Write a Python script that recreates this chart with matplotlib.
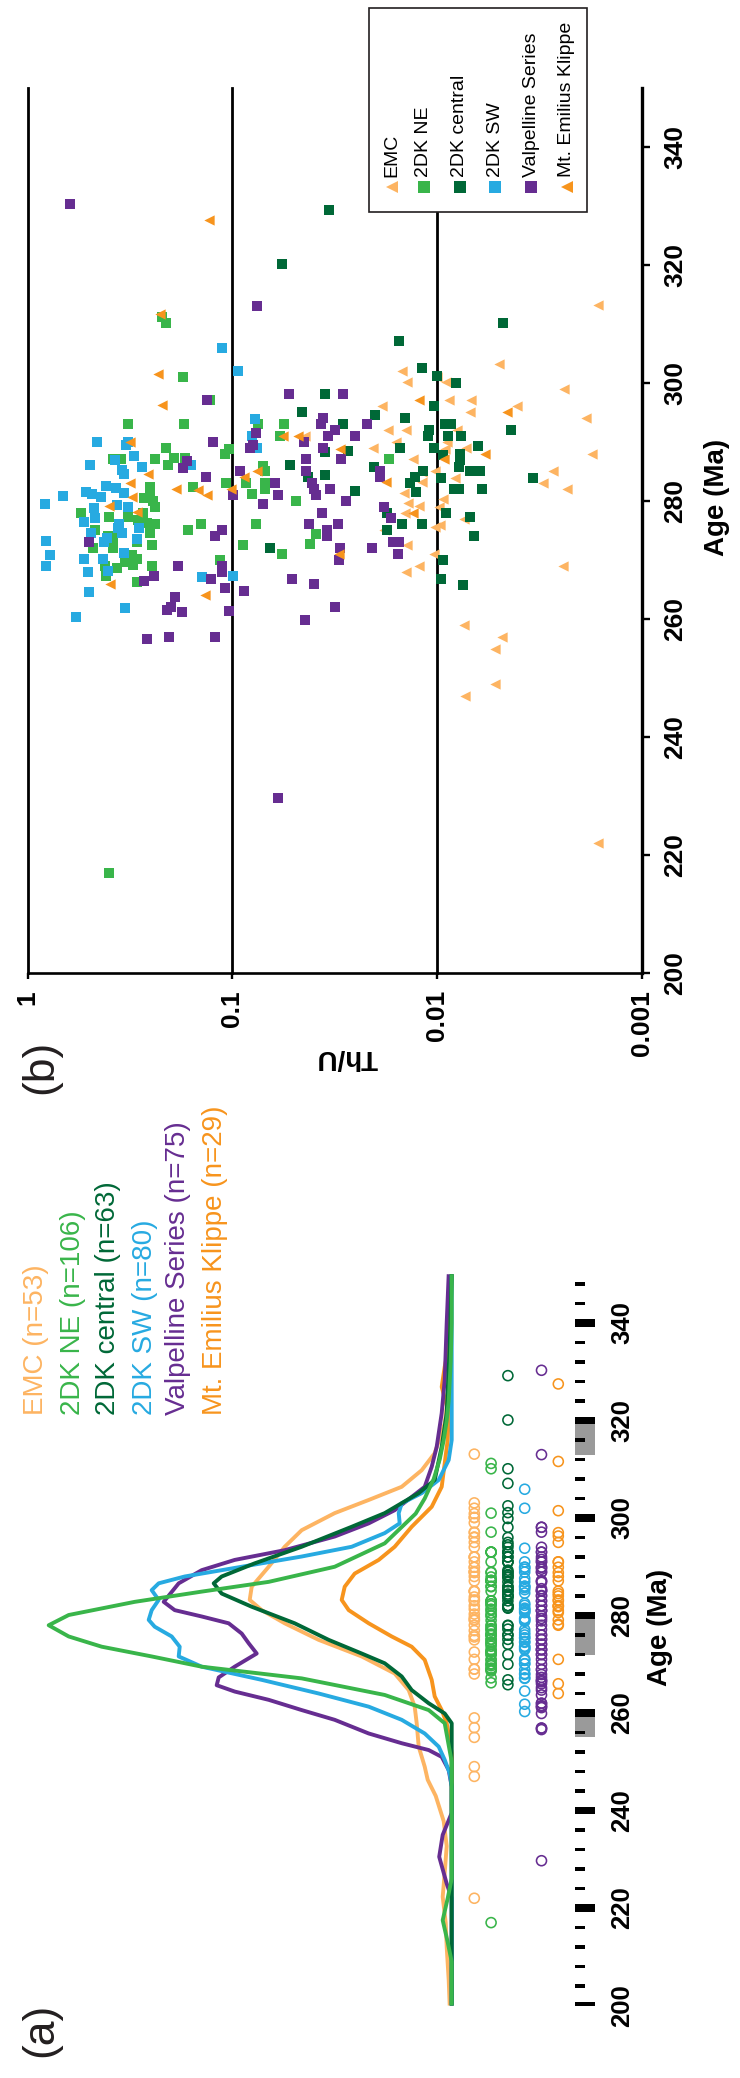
import matplotlib
matplotlib.use('Agg')
import matplotlib.pyplot as plt
import numpy as np
from matplotlib.patches import Rectangle
from matplotlib.ticker import NullLocator

plt.rcParams['font.family'] = ['Liberation Sans', 'DejaVu Sans']

# ---------------- data ----------------
groups = ['EMC', '2DK NE', '2DK central', '2DK SW', 'Valpelline Series', 'Mt. Emilius Klippe']
counts = [53, 106, 63, 80, 75, 29]
colors = ['#FDB462', '#39B54A', '#006837', '#27AAE1', '#662D91', '#F7941D']
markers_b = ['<', 's', 's', 's', 's', '<']

# (b) Th/U vs age
emc_age = [313.1, 303.1, 302.0, 300.1, 300.9, 300.1, 299.0, 296.1, 297.0, 297.1, 295.0, 296.0, 294.0,
           291.0, 292.0, 292.0, 292.0, 289.9, 289.0, 289.9, 289.0, 288.0, 287.1, 288.8, 284.9, 285.0,
           283.2, 283.8, 285.0, 283.0, 282.0, 281.3, 279.6, 279.2, 278.0, 280.3, 279.0, 276.9, 275.9,
           275.6, 275.0, 272.5, 271.0, 269.0, 268.0, 269.0, 259.0, 257.0, 255.0, 249.0, 247.0, 222.0]
emc_thu = [0.00163, 0.0050, 0.0148, 0.0140, 0.0100, 0.0090, 0.00241, 0.0185, 0.0087, 0.00686, 0.0069,
           0.00408, 0.00187, 0.0440, 0.0173, 0.0141, 0.0080, 0.0159, 0.0206, 0.0089, 0.0072, 0.00174,
           0.0131, 0.0091, 0.0118, 0.0102, 0.0118, 0.0082, 0.00272, 0.00305, 0.00231, 0.0145, 0.0138,
           0.0123, 0.0144, 0.0093, 0.0098, 0.0074, 0.0097, 0.0102, 0.0182, 0.0140, 0.0103, 0.0122,
           0.0142, 0.00242, 0.0074, 0.0048, 0.0052, 0.0052, 0.0073, 0.00164]

ne_age = [311.2, 310.1, 301.0, 297.1, 293.0, 293.0, 288.9, 288.8, 287.9, 287.1, 287.1, 287.1, 287.2,
          287.2, 286.0, 293.0, 293.0, 291.0, 285.9, 285.0, 283.0, 282.4, 282.4, 281.3, 283.0, 283.0,
          282.0, 281.1, 279.9, 278.0, 277.3, 279.0, 280.5, 280.0, 277.2, 276.2, 276.0, 276.0, 275.1,
          276.0, 274.4, 272.7, 272.5, 271.0, 275.1, 274.1, 272.0, 272.0, 273.0, 272.5, 274.5, 268.9,
          268.6, 269.2, 270.1, 268.9, 267.2, 266.2, 270.0, 273.7, 270.8, 269.7, 277.9, 276.8, 287.1,
          217.0]
ne_thu = [0.22, 0.212, 0.174, 0.129, 0.322, 0.172, 0.212, 0.104, 0.109, 0.351, 0.381, 0.238, 0.192,
          0.170, 0.206, 0.0746, 0.0557, 0.0582, 0.0706, 0.069, 0.108, 0.155, 0.252, 0.252, 0.0855,
          0.069, 0.069, 0.0798, 0.0487, 0.547, 0.399, 0.240, 0.27, 0.243, 0.322, 0.262, 0.24, 0.143,
          0.164, 0.0763, 0.0389, 0.0416, 0.0883, 0.057, 0.469, 0.404, 0.478, 0.381, 0.293, 0.246,
          0.252, 0.421, 0.367, 0.305, 0.294, 0.246, 0.413, 0.294, 0.115, 0.381, 0.31, 0.334, 0.272,
          0.288, 0.0171, 0.40]

cen_age = [329.2, 310.1, 307.1, 302.5, 301.1, 299.9, 298.1, 295.0, 296.0, 294.5, 294.0, 293.0, 293.0,
           293.0, 292.0, 291.0, 292.0, 291.0, 291.0, 289.3, 288.9, 288.9, 288.4, 288.2, 287.8, 287.9,
           286.9, 285.8, 285.8, 284.4, 284.1, 285.1, 284.0, 283.8, 285.1, 285.1, 283.8, 283.0, 281.6,
           281.5, 282.0, 282.0, 282.0, 278.0, 277.9, 277.2, 276.0, 276.0, 275.1, 274.1, 270.0, 266.8,
           265.8, 320.1, 286.0, 272.0]
cen_thu = [0.0336, 0.00474, 0.0154, 0.0119, 0.0100, 0.0081, 0.0352, 0.0455, 0.0104, 0.0200, 0.0144,
           0.0287, 0.0091, 0.0085, 0.0109, 0.0111, 0.00434, 0.0088, 0.0076, 0.0063, 0.0103, 0.0152,
           0.0271, 0.0352, 0.0093, 0.0077, 0.0077, 0.0078, 0.0203, 0.0352, 0.0425, 0.0117, 0.0128,
           0.0096, 0.0069, 0.0062, 0.0034, 0.0136, 0.0253, 0.0126, 0.0083, 0.0078, 0.0060, 0.0175,
           0.0090, 0.0069, 0.0149, 0.0119, 0.0175, 0.0066, 0.0093, 0.0096, 0.0075, 0.057, 0.052, 0.0652]

sw_age = [305.9, 302.0, 293.8, 291.0, 288.9, 289.9, 289.9, 289.5, 287.6, 286.9, 286.0, 285.7, 285.3,
          284.6, 286.0, 282.5, 282.1, 281.3, 280.8, 279.4, 281.5, 281.1, 280.6, 278.8, 279.3, 279.0,
          276.5, 277.1, 276.0, 275.4, 274.5, 274.6, 273.7, 273.0, 273.5, 273.2, 270.8, 268.9, 270.1,
          270.1, 271.1, 268.1, 267.9, 267.1, 267.2, 264.5, 261.8, 260.3, 275.4]
sw_thu = [0.112, 0.0935, 0.0772, 0.0798, 0.0755, 0.457, 0.322, 0.330, 0.301, 0.373, 0.494, 0.275,
          0.345, 0.337, 0.159, 0.413, 0.369, 0.337, 0.670, 0.820, 0.517, 0.483, 0.436, 0.472, 0.365,
          0.322, 0.528, 0.467, 0.357, 0.285, 0.489, 0.345, 0.408, 0.422, 0.294, 0.810, 0.775, 0.810,
          0.528, 0.427, 0.337, 0.404, 0.506, 0.140, 0.099, 0.500, 0.333, 0.578, 0.361]

val_age = [330.3, 313.0, 297.1, 298.1, 289.9, 291.5, 289.5, 288.9, 286.8, 285.5, 285.1, 289.9, 287.1,
           285.1, 284.1, 283.0, 283.0, 282.0, 281.0, 281.0, 279.4, 276.0, 275.1, 274.1, 273.0, 268.9,
           268.9, 267.9, 267.3, 266.4, 266.7, 266.7, 266.0, 265.2, 264.7, 263.7, 262.0, 261.5, 261.1,
           261.3, 259.9, 256.6, 256.9, 256.9, 298.1, 294.0, 293.0, 292.0, 293.0, 291.0, 291.0, 288.9,
           287.1, 281.0, 282.0, 285.0, 284.0, 279.9, 278.0, 278.9, 277.1, 276.0, 275.1, 274.1, 273.0,
           273.0, 272.0, 272.0, 271.0, 270.0, 262.0, 229.7]
val_thu = [0.62, 0.076, 0.133, 0.053, 0.124, 0.077, 0.079, 0.082, 0.166, 0.174, 0.092, 0.0445, 0.0435,
           0.0435, 0.134, 0.062, 0.041, 0.040, 0.060, 0.099, 0.071, 0.042, 0.113, 0.122, 0.50, 0.184,
           0.113, 0.113, 0.241, 0.269, 0.127, 0.051, 0.040, 0.109, 0.088, 0.190, 0.20, 0.208, 0.177,
           0.104, 0.044, 0.26, 0.203, 0.122, 0.0287, 0.036, 0.037, 0.0314, 0.0221, 0.034, 0.0253,
           0.036, 0.0294, 0.039, 0.0332, 0.0191, 0.0189, 0.0277, 0.0363, 0.0181, 0.0167, 0.0303,
           0.0344, 0.0344, 0.0164, 0.0153, 0.0297, 0.0207, 0.0155, 0.030, 0.0314, 0.060]

mte_age = [327.5, 311.6, 301.5, 296.3, 289.9, 284.5, 283.0, 282.0, 281.8, 281.0, 280.6, 279.1, 278.2,
           282.0, 284.0, 285.0, 291.0, 291.0, 266.0, 264.0, 297.0, 295.0, 288.8, 287.1, 288.0, 283.2,
           278.0, 271.0]
mte_thu = [0.130, 0.227, 0.230, 0.220, 0.316, 0.258, 0.316, 0.188, 0.148, 0.133, 0.309, 0.401, 0.291,
           0.102, 0.0873, 0.0755, 0.0565, 0.0476, 0.396, 0.136, 0.0123, 0.00457, 0.0298, 0.0092,
           0.00583, 0.0177, 0.0131, 0.0301]

ages_all = [emc_age, ne_age, cen_age, sw_age, val_age, mte_age]
thu_all = [emc_thu, ne_thu, cen_thu, sw_thu, val_thu, mte_thu]

# (a) relative probability curves (arbitrary units)
emc_kde_age = [200, 205.2, 212, 217, 222.3, 227.2, 232.7, 237.8, 243, 246.3, 249, 253.1, 257.9, 261.3,
               264.7, 268.1, 271.6, 275, 278.4, 281.1, 283.2, 285.9, 290, 294.1, 297.5, 301, 303.7,
               306.4, 309.8, 313.3, 319.4, 326, 335, 350]
emc_kde_p = [2, 3, 5, 6, 9, 7, 5, 8, 16, 24, 27, 33, 35, 37, 43, 57, 90, 133, 167, 190, 202, 200, 183,
             167, 150, 117, 83, 50, 30, 17, 7, 3, 1, 0]
ne_kde_age = [200, 209, 213, 217.5, 222, 226, 250, 257.9, 260.6, 263.7, 267.1, 269.5, 271.6, 273.6,
              275.7, 278.0, 280.1, 282.8, 284.9, 286.9, 290, 294.8, 300.9, 304, 308, 312, 316, 320,
              324, 328, 332, 340, 350]
ne_kde_p = [0, 0, 4, 9, 4, 0, 0, 7, 23, 67, 150, 250, 300, 350, 383, 403, 383, 317, 250, 183, 117, 67,
            36, 27, 18, 12, 8, 5, 3, 2, 1, 0, 0]
cen_kde_age = [200, 257.9, 259.9, 262.0, 264.7, 267.5, 270.2, 272.2, 275.0, 278.4, 281.8, 284.5, 286.6,
               288.0, 290.7, 294.1, 298.2, 301.0, 305.1, 307.8, 314.6, 321.5, 335.1, 350]
cen_kde_p = [0, 0, 7, 23, 40, 50, 67, 90, 123, 157, 200, 230, 238, 230, 197, 150, 100, 67, 33, 17, 10,
             5, 2, 0]
sw_kde_age = [200, 240, 244.9, 247.6, 250.4, 253.1, 255.8, 258.6, 261.3, 264.0, 266.8, 269.5, 271.6,
              273.6, 275.7, 277.7, 279.1, 281.1, 283.2, 285.2, 286.6, 288.0, 290.0, 292.1, 294.1, 296.9,
              298.9, 301.0, 303.0, 305.1, 307.8, 311.9, 316, 350]
sw_kde_p = [0, 0, 0, 2, 7, 13, 27, 50, 83, 133, 190, 250, 273, 272, 280, 297, 303, 300, 293, 300, 293,
            267, 210, 150, 100, 67, 52, 53, 50, 30, 13, 3, 0, 0]
val_kde_age = [200, 222, 225, 230.5, 235, 239.5, 244.9, 248.3, 251.0, 252.4, 253.8, 255.8, 258.6, 260.6,
               262.7, 264.4, 265.7, 267.3, 269.5, 272.2, 274.3, 276.3, 278.4, 279.8, 281.1, 282.8, 286.6,
               289.3, 291.4, 293.4, 296.2, 298.9, 301.6, 306.4, 310.5, 314.6, 321.5, 328.3, 340, 350]
val_kde_p = [0, 0, 5, 12.5, 9, 0, 0, 3, 10, 23, 50, 83, 117, 150, 183, 217, 235, 233, 217, 195, 203,
             210, 223, 250, 277, 288, 273, 250, 217, 167, 117, 83, 57, 27, 20, 15, 10, 7, 5, 3]
mte_kde_age = [200, 251.7, 254.5, 257.9, 260.6, 263.4, 266.8, 270.9, 273.6, 275.7, 278.4, 281.1, 283.2,
               285.9, 288.6, 291.4, 294.1, 298.2, 302.3, 306.4, 311.2, 316, 321.5, 326.9, 331, 335.1, 350]
mte_kde_p = [0, 0, 2, 5, 10, 17, 20, 27, 40, 60, 83, 103, 110, 107, 97, 73, 57, 40, 20, 10, 7, 4, 3,
             10, 7, 3, 0]

kde_age_all = [emc_kde_age, ne_kde_age, cen_kde_age, sw_kde_age, val_kde_age, mte_kde_age]
kde_p_all = [emc_kde_p, ne_kde_p, cen_kde_p, sw_kde_p, val_kde_p, mte_kde_p]

# time scale bar
scale_major = [200, 220, 240, 260, 280, 300, 320, 340]
scale_minor = [a for a in range(204, 350, 4) if a % 20 != 0]
gray_start = [255, 272, 313]
gray_end = [260, 280, 320]

age_ticks = [200, 220, 240, 260, 280, 300, 320, 340]
thu_ticks = [1, 0.1, 0.01, 0.001]
thu_ticklabels = ['1', '0.1', '0.01', '0.001']

# ---------------- layout ----------------
W, H = 740, 2078
fig = plt.figure(figsize=(W / 100, H / 100), dpi=100)
TXT = '#231F20'


def box(x0, y0, x1, y1):
    return [x0 / W, 1 - y1 / H, (x1 - x0) / W, (y1 - y0) / H]


def P(x, y):
    return (x / W, 1 - y / H)


# ---------- panel (b) ----------
axb = fig.add_axes(box(27.7, 87.5, 641.7, 973.3))
axb.set_xscale('log')
axb.set_xlim(1, 0.001)
axb.set_ylim(200, 350)
for v in [1, 0.1, 0.01]:
    axb.axvline(v, color='black', lw=2.0, zorder=0.5, clip_on=False)
for i in range(6):
    ms = 45 if markers_b[i] == 's' else 55
    axb.scatter(thu_all[i], ages_all[i], marker=markers_b[i], s=ms, color=colors[i],
                linewidths=0, zorder=2 + i)
axb.spines['top'].set_visible(False)
axb.spines['left'].set_visible(False)
axb.spines['right'].set_linewidth(2.4)
axb.spines['bottom'].set_linewidth(1.9)
axb.yaxis.tick_right()
axb.set_yticks(age_ticks)
axb.set_yticklabels([str(a) for a in age_ticks])
axb.tick_params(axis='y', direction='out', length=5.8, width=1.7, pad=9.5, labelsize=19)
for lab in axb.get_yticklabels():
    lab.set_rotation(90)
    lab.set_fontweight('bold')
    lab.set_va('center')
axb.set_xticks(thu_ticks)
axb.set_xticklabels(thu_ticklabels)
axb.xaxis.set_minor_locator(NullLocator())
axb.tick_params(axis='x', direction='out', length=4.3, width=1.7, pad=7.7, labelsize=19)
for lab in axb.get_xticklabels():
    lab.set_rotation(90)
    lab.set_fontweight('bold')

# ---------- panel (a) ----------
Y0, Y1 = 1274.25, 2005.5
axk = fig.add_axes(box(0, Y0, 451.7, Y1))
axk.set_xlim(451.7, 0)
axk.set_ylim(200, 350)
axk.axis('off')
order = [0, 5, 4, 3, 2, 1]
for i in order:
    axk.plot(kde_p_all[i], kde_age_all[i], color=colors[i], lw=2.8, clip_on=False,
             solid_joinstyle='round', solid_capstyle='butt')

axd = fig.add_axes(box(457.5, Y0, 575.1, Y1))
axd.set_xlim(0, 7)
axd.set_ylim(200, 350)
axd.axis('off')
for i in range(6):
    axd.scatter(np.full(len(ages_all[i]), i + 1), ages_all[i], marker='o', s=52,
                facecolors='none', edgecolors=colors[i], linewidths=1.15, clip_on=False)

axs = fig.add_axes(box(575, Y0, 595, Y1))
axs.set_xlim(0, 1)
axs.set_ylim(200, 350)
for s0, s1 in zip(gray_start, gray_end):
    axs.barh((s0 + s1) / 2, 1, height=s1 - s0, left=0, color='#9A9A9A', lw=0)
axs.barh(scale_minor, 0.5, height=0.62, left=0, color='black', lw=0)
axs.barh(scale_major, 1, height=1.64, left=0, color='black', lw=0)
for sp in axs.spines.values():
    sp.set_visible(False)
axs.set_xticks([])
axs.yaxis.tick_right()
axs.set_yticks(age_ticks)
axs.set_yticklabels([str(a) for a in age_ticks])
axs.tick_params(axis='y', length=0, pad=11, labelsize=18.5)
for lab in axs.get_yticklabels():
    lab.set_rotation(90)
    lab.set_fontweight('bold')
    lab.set_va('center')

# ---------- texts & legends ----------
fig.text(*P(41, 2030), '(a)', rotation=90, ha='center', va='center', fontsize=32, color=TXT)
fig.text(*P(41, 1067), '(b)', rotation=90, ha='center', va='center', fontsize=32, color=TXT)
fig.text(*P(660, 1627), 'Age (Ma)', rotation=90, ha='center', va='center', fontsize=20,
         fontweight='bold')
fig.text(*P(717, 497), 'Age (Ma)', rotation=90, ha='center', va='center', fontsize=20,
         fontweight='bold')
fig.text(*P(347, 1057), 'Th/U', rotation=180, ha='center', va='center', fontsize=20,
         fontweight='bold')

leg_a_x = [36, 72.7, 108, 145, 178, 215]
for i in range(6):
    fig.text(*P(leg_a_x[i], 1415), f'{groups[i]} (n={counts[i]})', rotation=90, ha='center',
             va='bottom', fontsize=20, color=colors[i])

# legend of panel (b)
axo = fig.add_axes([0, 0, 1, 1], zorder=10)
axo.set_xlim(0, W)
axo.set_ylim(H, 0)
axo.axis('off')
axo.add_patch(Rectangle((369.3, 7.6), 586.7 - 369.3, 211.7 - 7.6, facecolor='white',
                        edgecolor='#231F20', lw=1.2))
leg_b_x = [391.7, 424, 460, 495, 531, 566.7]
for i in range(6):
    ms = 8.4 if markers_b[i] == 's' else 9.0
    axo.plot([leg_b_x[i]], [187.3], marker=markers_b[i], ms=ms, color=colors[i], mew=0,
             linestyle='none')
    axo.text(leg_b_x[i], 177, groups[i], rotation=90, ha='center', va='bottom', fontsize=14,
             color='black')

fig.savefig('out.png', dpi=100)
